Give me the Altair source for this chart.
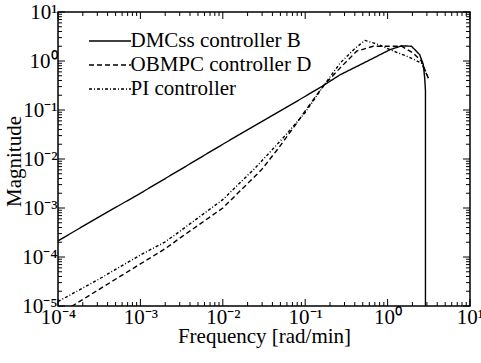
import altair as alt
import pandas as pd

FONT = "Liberation Serif"
FS = 21

series_names = ["DMCss controller B", "OBMPC controller D", "PI controller"]

# DMCss controller B (solid)
dmc_freq = [1e-4, 3.16e-4, 1e-3, 3.16e-3, 1e-2, 3.16e-2, 0.1, 0.17, 0.266, 0.5,
            1.067, 1.48, 1.95, 2.45, 2.71, 2.82, 2.88, 2.88]
dmc_mag = [2.14e-4, 6.6e-4, 2.0e-3, 6.3e-3, 0.02, 0.0617, 0.19, 0.324, 0.525, 0.89,
           1.70, 2.04, 2.0, 1.35, 0.85, 0.447, 0.25, 1e-5]

# OBMPC controller D (dashed)
obm_freq = [1e-4, 3.16e-4, 1e-3, 2.0e-3, 3.16e-3, 1e-2, 0.0295, 0.0468, 0.075, 0.1,
            0.151, 0.17, 0.266, 0.421, 0.668, 1.067, 1.48, 2.04, 2.57, 3.12]
obm_mag = [6.6e-6, 2.19e-5, 7.24e-5, 1.48e-4, 2.57e-4, 1e-3, 6.03e-3, 0.0162, 0.0479, 0.0955,
           0.251, 0.324, 0.724, 1.585, 2.0, 2.0, 2.0, 1.46, 1.0, 0.447]

# PI controller (dash-dot)
pi_freq = [1e-4, 3.16e-4, 1e-3, 2.0e-3, 3.16e-3, 1e-2, 0.0245, 0.0447, 0.0631, 0.1,
           0.17, 0.266, 0.398, 0.531, 0.794, 1.067, 1.70, 2.57, 3.12]
pi_mag = [1.23e-5, 3.55e-5, 1.10e-4, 2.04e-4, 3.55e-4, 1.48e-3, 6.46e-3, 0.0191, 0.0363, 0.0891,
          0.324, 0.912, 1.78, 2.63, 2.14, 1.70, 1.26, 0.912, 0.447]

x_decades = [1e-4, 1e-3, 1e-2, 1e-1, 1, 10]
y_decades = [1e-5, 1e-4, 1e-3, 1e-2, 1e-1, 1, 10]

rows = []
for name, fs, ms in [(series_names[0], dmc_freq, dmc_mag),
                     (series_names[1], obm_freq, obm_mag),
                     (series_names[2], pi_freq, pi_mag)]:
    for i, (f, m) in enumerate(zip(fs, ms)):
        rows.append({"series": name, "freq": f, "mag": m, "order": i})
df = pd.DataFrame(rows)

x_minor = [k * d for d in x_decades[:-1] for k in range(2, 10)]
y_minor = [k * d for d in y_decades[:-1] for k in range(2, 10)]

W, H = 412, 294
MAJ, MIN = 7, 4

xscale = alt.Scale(type="log", domain=[1e-4, 10])
yscale = alt.Scale(type="log", domain=[1e-5, 10])

sup = ("'10' + replace(replace(replace(replace(replace(replace(replace("
       "'' + round(log(datum.value)/LN10), '-', '\u207b'), '0', '\u2070'), '1', '\u00b9'),"
       " '2', '\u00b2'), '3', '\u00b3'), '4', '\u2074'), '5', '\u2075')")

lines = alt.Chart(df).mark_line(color="black", strokeWidth=1.4, clip=True).encode(
    x=alt.X("freq:Q", scale=xscale,
            axis=alt.Axis(values=x_decades, labelExpr=sup, title="Frequency [rad/min]",
                          ticks=False, domain=False, grid=False, labelPadding=0,
                          labelFont=FONT, labelFontSize=FS, labelColor="black",
                          labelFlush=False, labelOverlap=False,
                          titleFont=FONT, titleFontSize=FS, titleFontWeight="normal",
                          titleColor="black", titleY=36, titleBaseline="alphabetic")),
    y=alt.Y("mag:Q", scale=yscale,
            axis=alt.Axis(values=y_decades, labelExpr=sup, title="Magnitude",
                          ticks=False, domain=False, grid=False, labelPadding=1,
                          labelFont=FONT, labelFontSize=FS, labelColor="black",
                          labelFlush=False, labelOverlap=False,
                          titleFont=FONT, titleFontSize=FS, titleFontWeight="normal",
                          titleColor="black", titleX=-38, titleY=H / 2 + 2,
                          titleBaseline="alphabetic")),
    strokeDash=alt.StrokeDash(
        "series:N",
        scale=alt.Scale(domain=series_names, range=[[1, 0], [5, 3], [3, 2, 1, 2]]),
        legend=alt.Legend(title=None, orient="none", legendX=40.5, legendY=17.5,
                          symbolType="M-2,0H2", symbolSize=441, symbolStrokeWidth=1.4,
                          symbolStrokeColor="black", labelFont=FONT, labelFontSize=FS,
                          labelColor="black", rowPadding=2, labelOffset=9, padding=0,
                          labelLimit=400),
    ),
    order="order:Q",
)


def xticks(vals, length, top):
    d = pd.DataFrame({"freq": vals})
    y0, y1 = (0, length) if top else (H, H - length)
    return alt.Chart(d).mark_rule(color="black", strokeWidth=1).encode(
        x=alt.X("freq:Q", scale=xscale),
        y=alt.value(y0), y2=alt.value(y1))


def yticks(vals, length, right):
    d = pd.DataFrame({"mag": vals})
    x0, x1 = (W, W - length) if right else (0, length)
    return alt.Chart(d).mark_rule(color="black", strokeWidth=1).encode(
        y=alt.Y("mag:Q", scale=yscale),
        x=alt.value(x0), x2=alt.value(x1))


tick_layers = [
    xticks(x_decades, MAJ, False), xticks(x_minor, MIN, False),
    xticks(x_decades, MAJ, True), xticks(x_minor, MIN, True),
    yticks(y_decades, MAJ, False), yticks(y_minor, MIN, False),
    yticks(y_decades, MAJ, True), yticks(y_minor, MIN, True),
]

chart = alt.layer(lines, *tick_layers).properties(
    width=W, height=H,
    padding={"left": 58, "top": 12, "right": 11, "bottom": 57},
    autosize=alt.AutoSizeParams(type="none"),
    background="white",
).configure(font=FONT).configure_view(stroke="black", strokeWidth=1.5)

chart.save("out.html", embed_options={"renderer": "svg", "actions": False})
